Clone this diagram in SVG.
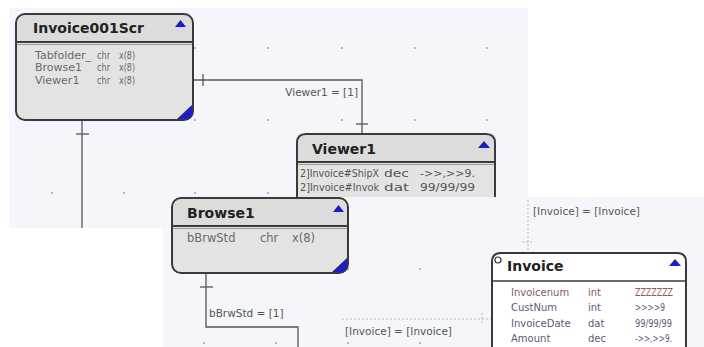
<svg xmlns="http://www.w3.org/2000/svg" width="704" height="347" viewBox="0 0 704 347">
<style>
.bg{fill:#f5f6fc}
.dot{fill:#9a9aa6}
.edge{stroke:#3a3a3a;stroke-width:2;fill:none}
.hdr{fill:#dcdcdc}
.body{fill:#e3e3e3}
.title{font-family:"DejaVu Sans",sans-serif;font-weight:bold;font-size:14px;fill:#222}
.row{font-family:"DejaVu Sans",sans-serif;font-size:11px;fill:#6a6a6a}
.rowb{font-family:"DejaVu Sans",sans-serif;font-size:11.5px;fill:#6a6a6a}
.rowv{font-family:"DejaVu Sans",sans-serif;font-size:10px;fill:#555}
.rowi{font-family:"DejaVu Sans",sans-serif;font-size:10px;fill:#5c5c7a}
.key{fill:#8b5a5a}
.conn{stroke:#555;stroke-width:1.3;fill:none}
.dash{stroke:#b8b8c0;stroke-width:1;stroke-dasharray:2 2;fill:none}
.lbl{font-family:"DejaVu Sans",sans-serif;font-size:10.5px;fill:#555}
.blue{fill:#1c1cc8}
.sep{stroke:#3a3a3a;stroke-width:2}
.sep2{stroke:#9a9a9a;stroke-width:1}
</style>
<defs>
<clipPath id="clipV"><rect x="280" y="120" width="230" height="77"/></clipPath>
</defs>

<rect x="0" y="0" width="704" height="347" fill="#ffffff"/>
<rect class="bg" x="9" y="8" width="519" height="220"/>

<g id="grid1">
<circle class="dot" cx="52" cy="48" r="0.9"/><circle class="dot" cx="124" cy="48" r="0.9"/><circle class="dot" cx="195" cy="48" r="0.9"/><circle class="dot" cx="268" cy="48" r="0.9"/><circle class="dot" cx="342" cy="48" r="0.9"/><circle class="dot" cx="415" cy="48" r="0.9"/><circle class="dot" cx="487" cy="48" r="0.9"/>
<circle class="dot" cx="52" cy="120" r="0.9"/><circle class="dot" cx="124" cy="120" r="0.9"/><circle class="dot" cx="195" cy="120" r="0.9"/><circle class="dot" cx="268" cy="120" r="0.9"/><circle class="dot" cx="342" cy="120" r="0.9"/><circle class="dot" cx="415" cy="120" r="0.9"/><circle class="dot" cx="487" cy="120" r="0.9"/>
<circle class="dot" cx="52" cy="193" r="0.9"/><circle class="dot" cx="124" cy="193" r="0.9"/><circle class="dot" cx="195" cy="193" r="0.9"/><circle class="dot" cx="268" cy="193" r="0.9"/><circle class="dot" cx="342" cy="193" r="0.9"/><circle class="dot" cx="415" cy="193" r="0.9"/><circle class="dot" cx="487" cy="193" r="0.9"/>
</g>

<g id="connectors-top">
<path class="conn" d="M193,80 H362 V134"/>
<line class="conn" x1="203" y1="74" x2="203" y2="86"/>
<line class="conn" x1="356" y1="124" x2="368" y2="124"/>
<text class="lbl" x="358" y="96" text-anchor="end">Viewer1 = [1]</text>
<path class="conn" d="M82,120 V228"/>
<line class="conn" x1="76" y1="134" x2="89" y2="134"/>
</g>

<g id="Invoice001Scr">
<path class="body" d="M16,43 H193 V111 Q193,120 184,120 H25 Q16,120 16,111 Z"/>
<path class="hdr" d="M16,43 V23 Q16,14 25,14 H184 Q193,14 193,23 V43 Z"/>
<line class="sep" x1="16" y1="42" x2="193" y2="42"/>
<line class="sep2" x1="16" y1="44.5" x2="193" y2="44.5"/>
<path class="blue" d="M193,104 V111 Q193,120 184,120 H176 Z"/>
<rect class="edge" x="16" y="14" width="177" height="106" rx="9"/>
<polygon class="blue" points="175,27 186,27 180.5,20"/>
<text class="title" x="33" y="33">Invoice001Scr</text>
<text class="row" x="35" y="59">Tabfolder_</text><text class="row" x="97" y="59" textLength="13" lengthAdjust="spacingAndGlyphs">chr</text><text class="row" x="119" y="59" textLength="16" lengthAdjust="spacingAndGlyphs">x(8)</text>
<text class="row" x="35" y="71">Browse1</text><text class="row" x="97" y="71" textLength="13" lengthAdjust="spacingAndGlyphs">chr</text><text class="row" x="119" y="71" textLength="16" lengthAdjust="spacingAndGlyphs">x(8)</text>
<text class="row" x="35" y="84">Viewer1</text><text class="row" x="97" y="84" textLength="13" lengthAdjust="spacingAndGlyphs">chr</text><text class="row" x="119" y="84" textLength="16" lengthAdjust="spacingAndGlyphs">x(8)</text>
</g>

<g id="Viewer1" clip-path="url(#clipV)">
<path class="body" d="M297,162 H495 V210 H297 Z"/>
<path class="hdr" d="M297,162 V143 Q297,134 306,134 H486 Q495,134 495,143 V162 Z"/>
<line class="sep" x1="297" y1="162" x2="495" y2="162"/>
<line class="sep2" x1="297" y1="164.5" x2="495" y2="164.5"/>
<path class="edge" d="M297,210 V143 Q297,134 306,134 H486 Q495,134 495,143 V210"/>
<polygon class="blue" points="478,148 490,148 484,141"/>
<text class="title" x="312" y="154">Viewer1</text>
<text class="rowv" x="300" y="177" textLength="79" lengthAdjust="spacingAndGlyphs">2]Invoice#ShipX</text><text class="rowv" x="384" y="177" textLength="25" lengthAdjust="spacingAndGlyphs">dec</text><text class="rowv" x="420" y="177" textLength="55" lengthAdjust="spacingAndGlyphs">-&gt;&gt;,&gt;&gt;9.</text>
<text class="rowv" x="300" y="191" textLength="79" lengthAdjust="spacingAndGlyphs">2]Invoice#Invok</text><text class="rowv" x="384" y="191" textLength="25" lengthAdjust="spacingAndGlyphs">dat</text><text class="rowv" x="420" y="191" textLength="55" lengthAdjust="spacingAndGlyphs">99/99/99</text>
</g>

<rect class="bg" x="163" y="197" width="541" height="150"/>

<g id="grid2">
<circle class="dot" cx="204" cy="269" r="0.9"/><circle class="dot" cx="276" cy="269" r="0.9"/><circle class="dot" cx="348" cy="269" r="0.9"/><circle class="dot" cx="420" cy="269" r="0.9"/>
<circle class="dot" cx="204" cy="343" r="0.9"/><circle class="dot" cx="276" cy="343" r="0.9"/><circle class="dot" cx="348" cy="343" r="0.9"/><circle class="dot" cx="420" cy="343" r="0.9"/>
</g>

<g id="connectors-bottom">
<path class="conn" d="M206,273 V327 H298 V347"/>
<line class="conn" x1="200" y1="287" x2="213" y2="287"/>
<text class="lbl" x="209" y="317">bBrwStd = [1]</text>
<path class="dash" d="M342,319 H492"/>
<line class="dash" x1="482" y1="313" x2="482" y2="325"/>
<text class="lbl" x="345" y="335">[Invoice] = [Invoice]</text>
<path class="dash" d="M528,200 V253"/>
<line class="dash" x1="522" y1="242" x2="534" y2="242"/>
<text class="lbl" x="533" y="215">[Invoice] = [Invoice]</text>
</g>

<g id="Browse1">
<path class="body" d="M172,226 H348 V264 Q348,273 339,273 H181 Q172,273 172,264 Z"/>
<path class="hdr" d="M172,226 V207 Q172,198 181,198 H339 Q348,198 348,207 V226 Z"/>
<line class="sep" x1="172" y1="226" x2="348" y2="226"/>
<line class="sep2" x1="172" y1="228.5" x2="348" y2="228.5"/>
<path class="blue" d="M348,257 V264 Q348,273 339,273 H331 Z"/>
<rect class="edge" x="172" y="198" width="176" height="75" rx="9"/>
<polygon class="blue" points="333,212 344,212 338.5,205"/>
<text class="title" x="187" y="218">Browse1</text>
<text class="rowb" x="187" y="242">bBrwStd</text><text class="rowb" x="260" y="242">chr</text><text class="rowb" x="292" y="242">x(8)</text>
</g>

<g id="Invoice">
<path d="M492,360 V262 Q492,253 501,253 H677 Q686,253 686,262 V360 Z" fill="#ffffff"/>
<line x1="492" y1="281" x2="686" y2="281" stroke="#3a3a3a" stroke-width="1.5"/>
<path class="edge" d="M492,360 V262 Q492,253 501,253 H677 Q686,253 686,262 V360"/>
<circle cx="498" cy="260" r="3" fill="#ffffff" stroke="#333" stroke-width="1.2"/>
<polygon class="blue" points="669,266 681,266 675,259"/>
<text class="title" x="507" y="271">Invoice</text>
<text class="rowi key" x="511" y="296">Invoicenum</text><text class="rowi key" x="588" y="296">int</text><text class="rowi key" x="635" y="296" textLength="38" lengthAdjust="spacingAndGlyphs">ZZZZZZZ</text>
<text class="rowi" x="511" y="311">CustNum</text><text class="rowi" x="588" y="311">int</text><text class="rowi" x="635" y="311" textLength="30" lengthAdjust="spacingAndGlyphs">&gt;&gt;&gt;&gt;9</text>
<text class="rowi" x="511" y="327">InvoiceDate</text><text class="rowi" x="588" y="327">dat</text><text class="rowi" x="635" y="327" textLength="37" lengthAdjust="spacingAndGlyphs">99/99/99</text>
<text class="rowi" x="511" y="342">Amount</text><text class="rowi" x="588" y="342">dec</text><text class="rowi" x="635" y="342" textLength="37" lengthAdjust="spacingAndGlyphs">-&gt;&gt;,&gt;&gt;9.</text>
</g>
</svg>
